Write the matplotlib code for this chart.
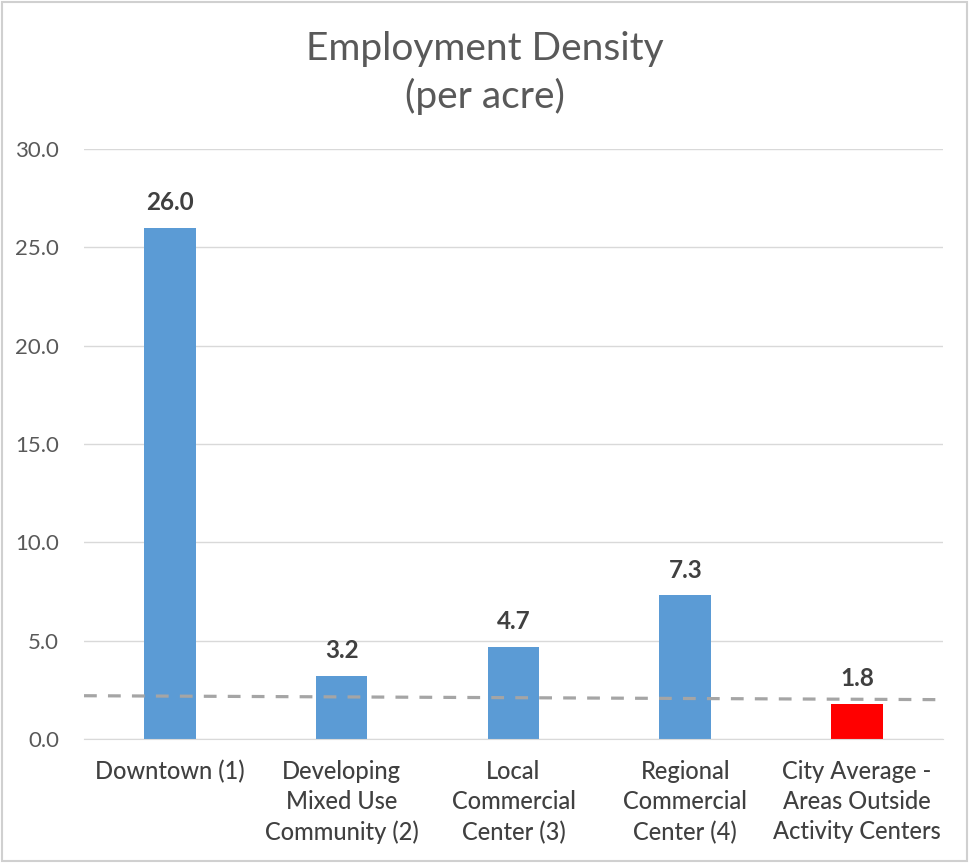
import matplotlib
matplotlib.use("Agg")
import matplotlib.pyplot as plt
from matplotlib.patches import Rectangle

categories = ["Downtown (1)", "Developing\nMixed Use\nCommunity (2)", "Local\nCommercial\nCenter (3)",
              "Regional\nCommercial\nCenter (4)", "City Average -\nAreas Outside\nActivity Centers"]
values = [26.0, 3.2, 4.7, 7.3, 1.8]
bar_colors = ["#5b9bd5", "#5b9bd5", "#5b9bd5", "#5b9bd5", "#ff0000"]
ref_line_x = [-0.5, 4.5]
ref_line_y = [2.2, 2.0]
yticks = [0, 5, 10, 15, 20, 25, 30]

plt.rcParams['font.family'] = ['Lato', 'DejaVu Sans']
fig = plt.figure(figsize=(9.69, 8.63), dpi=100)
ax = fig.add_axes([0.0867, 0.1437, 0.8864, 0.6836])
fig.patches.append(Rectangle((0.002, 0.002), 0.996, 0.996, transform=fig.transFigure,
                             fill=False, edgecolor="#d0d0d0", linewidth=1.5))

x = list(range(len(categories)))
ax.bar(x, values, width=0.30, color=bar_colors, zorder=2)
ax.plot(ref_line_x, ref_line_y, linestyle=(0, (4, 3.5)), color="#a5a5a5", linewidth=2.3, zorder=3)
for xi, v in zip(x, values):
    ax.text(xi, v + 0.7, f"{v:.1f}", ha="center", va="bottom", fontsize=17.5,
            fontweight="bold", color="#404040")

ax.set_xlim(-0.5, 4.5)
ax.set_ylim(0, 30)
ax.set_yticks(yticks)
ax.set_yticklabels([f"{t:.1f}" for t in yticks])
ax.grid(axis="y", color="#d9d9d9", linewidth=1, zorder=0)
ax.set_axisbelow(True)
for s in ["top", "right", "left"]:
    ax.spines[s].set_visible(False)
ax.spines["bottom"].set_color("#d9d9d9")
ax.tick_params(axis="y", length=0, labelsize=16, labelcolor="#595959", pad=18)
ax.tick_params(axis="x", length=0, labelsize=17, labelcolor="#404040", pad=15)
ax.set_xticks(x)
ax.set_xticklabels(categories, linespacing=1.38, va="top", fontweight="medium")

fig.text(0.5, 0.9154, "Employment Density\n(per acre)", ha="center", va="center",
         fontsize=28, color="#595959", linespacing=1.36)

fig.savefig("out.png", dpi=100)
